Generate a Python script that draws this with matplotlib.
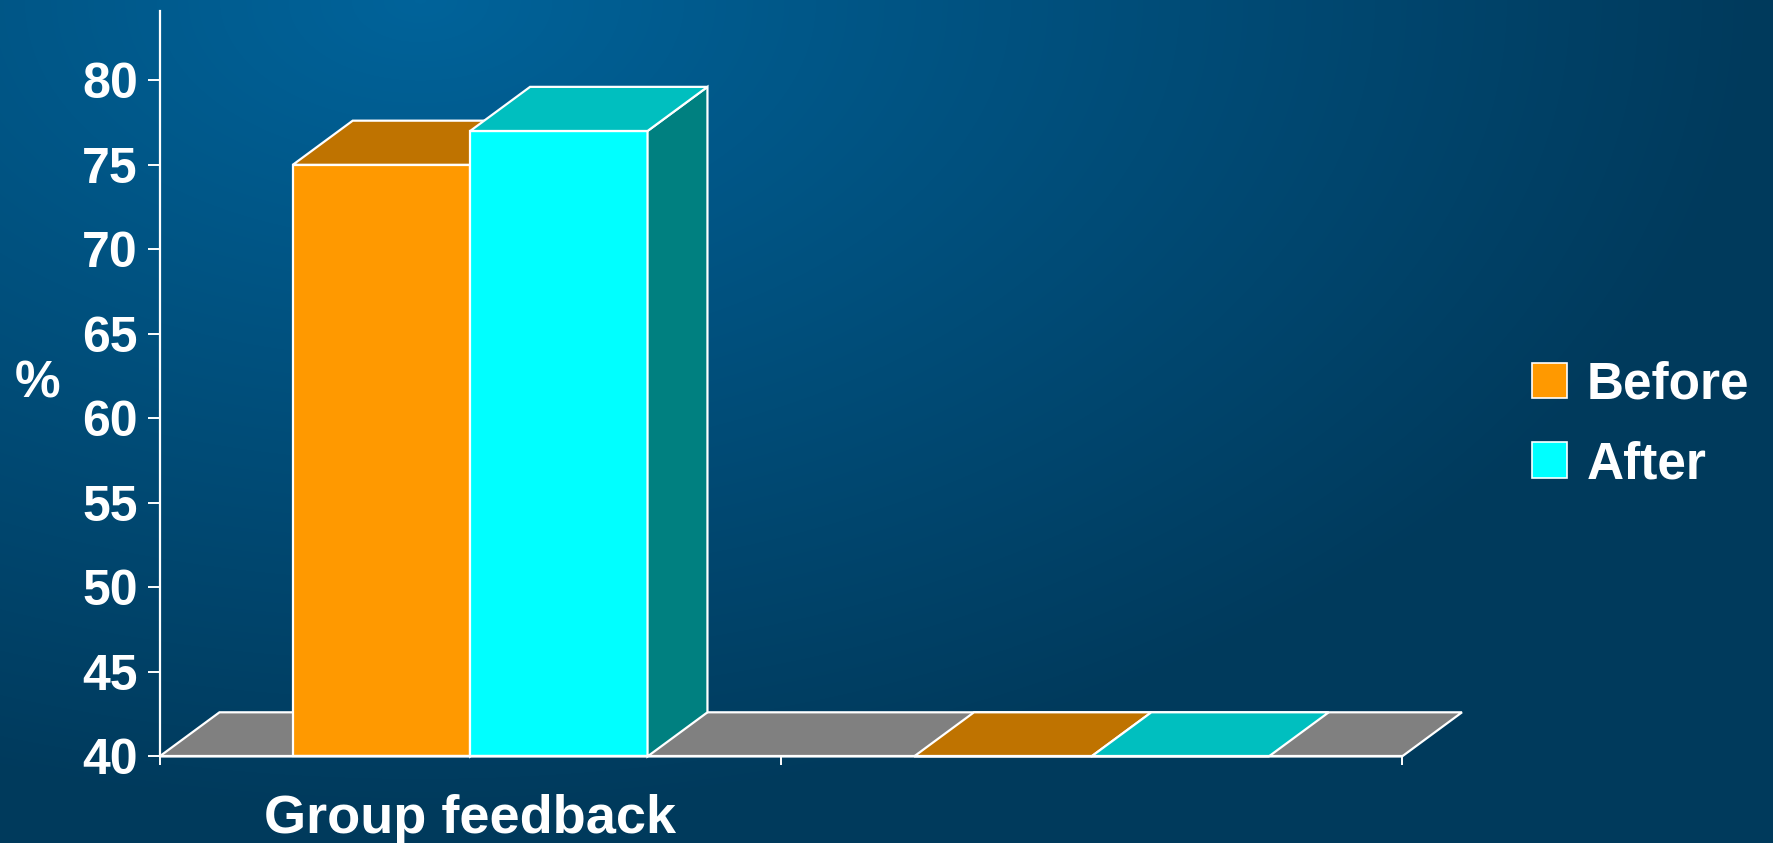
import numpy as np
import matplotlib
matplotlib.use('Agg')
from matplotlib import pyplot
from matplotlib.patches import Polygon, Rectangle
from matplotlib.colors import LinearSegmentedColormap

pyplot.rcParams['font.family'] = ['Liberation Sans', 'DejaVu Sans']
pyplot.rcParams['font.weight'] = 'bold'

# data
categories = ['Group feedback', '']
series_names = ['Before', 'After']
before = [75, 0]
after = [77, 0]

front_colors = ['#ff9900', '#00ffff']
top_colors = ['#bf7300', '#00bfbf']
side_colors = ['#a36200', '#008080']

ymin, ymax = 40, 84.1
bar_w = 0.2855
dx, dy = 0.0964, 2.61  # fake 3d depth in data units

fig = pyplot.figure(figsize=(17.73, 8.43), dpi=100)

# background gradient
bg = fig.add_axes([0, 0, 1, 1], zorder=-10)
h, w = 843, 1773
yy, xx = np.mgrid[0:h, 0:w]
t = np.sqrt(((xx - 420) / 1350.0) ** 2 + ((yy - 0) / 820.0) ** 2)
t = np.clip(t, 0, 1)
cmap = LinearSegmentedColormap.from_list('bg', ['#00639a', '#003a5c'])
bg.imshow(t, cmap=cmap, aspect='auto', vmin=0, vmax=1)
bg.axis('off')

ax = fig.add_axes([0.09, 0.1027, 0.7008, 0.8843])
ax.set_facecolor('none')
ax.set_xlim(0, 2)
ax.set_ylim(ymin, ymax)

ec = 'white'
lw = 1.6

# floor
ax.add_patch(Polygon([(0, ymin), (2, ymin), (2 + dx, ymin + dy), (dx, ymin + dy)],
                     closed=True, facecolor='#808080', edgecolor=ec, lw=lw, clip_on=False, zorder=2))

for ci in range(len(categories)):
    for si, vals in enumerate([before, after]):
        x0 = ci + 0.5 - bar_w + si * bar_w
        x1 = x0 + bar_w
        v = max(vals[ci], ymin)
        z = 3 + si
        if v > ymin:
            ax.add_patch(Rectangle((x0, ymin), bar_w, v - ymin, facecolor=front_colors[si],
                                   edgecolor=ec, lw=lw, clip_on=False, zorder=z))
            ax.add_patch(Polygon([(x1, ymin), (x1 + dx, ymin + dy), (x1 + dx, v + dy), (x1, v)],
                                 closed=True, facecolor=side_colors[si], edgecolor=ec, lw=lw,
                                 clip_on=False, zorder=z))
        ax.add_patch(Polygon([(x0, v), (x1, v), (x1 + dx, v + dy), (x0 + dx, v + dy)],
                             closed=True, facecolor=top_colors[si], edgecolor=ec, lw=lw,
                             clip_on=False, zorder=z))

for s in ['top', 'right']:
    ax.spines[s].set_visible(False)
for s in ['left', 'bottom']:
    ax.spines[s].set_color('white')
    ax.spines[s].set_linewidth(1.6)
ax.spines['bottom'].set_zorder(6)

ax.set_yticks(np.arange(40, 81, 5))
ax.set_xticks([0, 1, 2])
ax.set_xticklabels(['', '', ''])
ax.tick_params(axis='y', colors='white', labelsize=36, length=8.6, width=1.4, pad=7)
ax.tick_params(axis='x', colors='white', length=6.5, width=1.4)

for ci, c in enumerate(categories):
    ax.text(ci + 0.5, -0.05, c, transform=ax.get_xaxis_transform(),
            ha='center', va='top', color='white', fontsize=39, fontweight='bold')

fig.text(38 / 1773, 1 - 384 / 843, '%', color='white', fontsize=37, fontweight='bold',
         ha='center', va='center')

handles = [Rectangle((0, 0), 1, 1, facecolor=front_colors[i], edgecolor='white', lw=1.2)
           for i in range(2)]
leg = fig.legend(handles, series_names, loc='center left', bbox_to_anchor=(1532 / 1773, 0.496),
                 frameon=False, handlelength=0.69, handleheight=0.69,
                 handletextpad=0.37, labelspacing=0.6, borderpad=0, borderaxespad=0,
                 labelcolor='white', prop={'weight': 'bold', 'size': 37})

fig.savefig('out.png', dpi=100)
